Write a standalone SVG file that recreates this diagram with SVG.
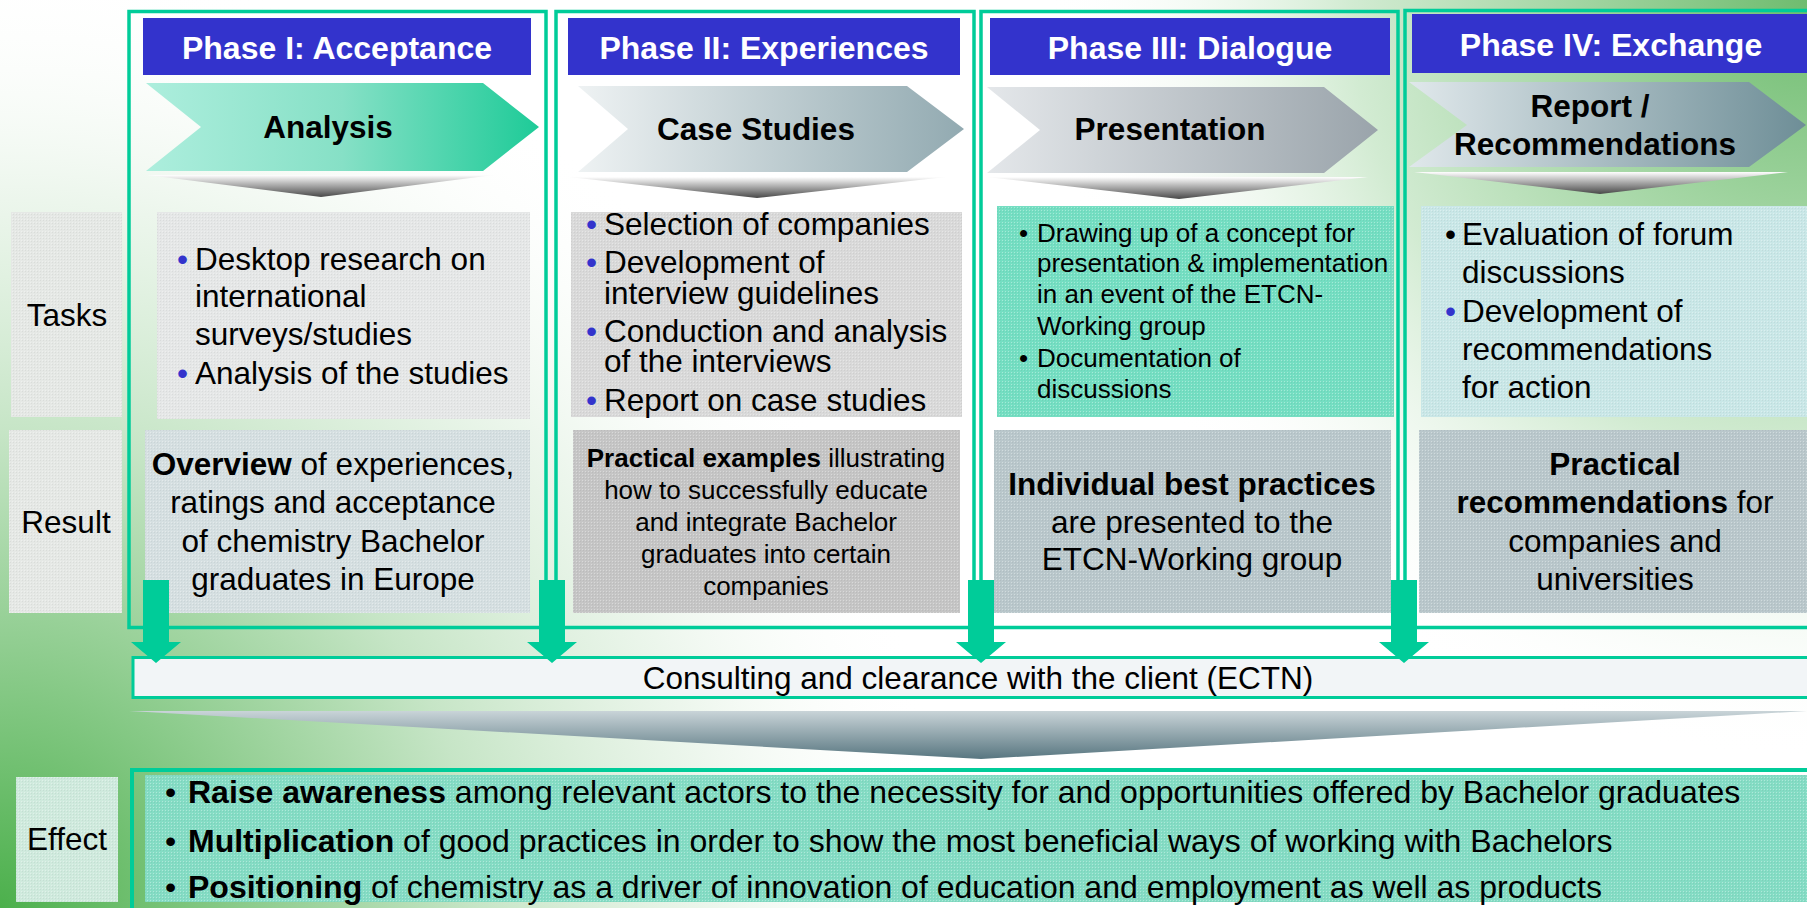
<svg xmlns="http://www.w3.org/2000/svg" width="1807" height="908" viewBox="0 0 1807 908">
<defs>
<radialGradient id="bgBL" cx="0" cy="908" r="950" gradientUnits="userSpaceOnUse">
<stop offset="0" stop-color="#4cb04c"/><stop offset="0.3" stop-color="#96d096"/><stop offset="0.5" stop-color="#c6e5c6"/><stop offset="0.75" stop-color="#e8f4e8" stop-opacity="0.8"/><stop offset="1" stop-color="#ffffff" stop-opacity="0"/>
</radialGradient>
<radialGradient id="bgTR" cx="1807" cy="0" r="760" gradientUnits="userSpaceOnUse">
<stop offset="0" stop-color="#6fbc6f"/><stop offset="0.3" stop-color="#a2d5a2"/><stop offset="0.6" stop-color="#d2ebd2"/><stop offset="1" stop-color="#ffffff" stop-opacity="0"/>
</radialGradient>
<linearGradient id="chev1" x1="0" y1="0" x2="1" y2="0"><stop offset="0" stop-color="#adeedd"/><stop offset="0.5" stop-color="#86e0c6"/><stop offset="1" stop-color="#1ecb98"/></linearGradient>
<linearGradient id="chev2" x1="0" y1="0" x2="1" y2="0"><stop offset="0" stop-color="#eef2f3"/><stop offset="1" stop-color="#92aab1"/></linearGradient>
<linearGradient id="chev3" x1="0" y1="0" x2="1" y2="0"><stop offset="0" stop-color="#e4e7ea"/><stop offset="1" stop-color="#9aa4ab"/></linearGradient>
<linearGradient id="chev4" x1="0" y1="0" x2="1" y2="0"><stop offset="0" stop-color="#e0e8eb"/><stop offset="1" stop-color="#6e8e97"/></linearGradient>
<linearGradient id="fun" x1="0" y1="0" x2="0" y2="1"><stop offset="0" stop-color="#ffffff"/><stop offset="1" stop-color="#484848"/></linearGradient>
<linearGradient id="bigfun" x1="0" y1="0" x2="0" y2="1"><stop offset="0" stop-color="#c9d4d8"/><stop offset="1" stop-color="#587680"/></linearGradient>
<pattern id="tex" width="3" height="3" patternUnits="userSpaceOnUse"><rect width="1" height="1" fill="#ffffff" fill-opacity="0.35"/><rect x="1" y="1" width="1" height="1" fill="#000000" fill-opacity="0.05"/></pattern>
<style>
.t{font-family:"Liberation Sans",Arial,sans-serif;font-size:31.5px;fill:#000}
.b{font-weight:bold}
.s{font-size:26px}
.e{font-size:32px}
.h{fill:#ffffff;font-weight:bold;font-size:32px}
.c{text-anchor:middle}
.blu{fill:#3333cc}
.frame{fill:none;stroke:#00cc99;stroke-width:3.5}
.hdr{fill:#3333cc}
.arrow{fill:#00cc99}
.tx{fill:url(#tex)}
</style>
</defs>

<g id="background">
<rect width="1807" height="908" fill="#ffffff"/>
<rect width="1807" height="908" fill="url(#bgBL)"/>
<rect width="1807" height="908" fill="url(#bgTR)"/>
</g>

<g id="row-labels">
<g id="label-tasks">
<rect x="11" y="212" width="111" height="205" fill="#e5e8e5"/><rect x="11" y="212" width="111" height="205" class="tx"/>
<text x="67" y="326" class="t c">Tasks</text>
</g>
<g id="label-result">
<rect x="9" y="430" width="113" height="183" fill="#e5e8e5"/><rect x="9" y="430" width="113" height="183" class="tx"/>
<text x="66" y="533" class="t c">Result</text>
</g>
<g id="label-effect">
<rect x="16" y="777" width="102" height="125" fill="#cfeadd"/><rect x="16" y="777" width="102" height="125" class="tx"/>
<text x="67" y="850" class="t c">Effect</text>
</g>
</g>

<g id="phase1">
<rect x="129" y="11.5" width="417" height="616" class="frame"/>
<rect x="143" y="18" width="388" height="57" class="hdr"/>
<text x="337" y="59" class="t h c">Phase I: Acceptance</text>
<polygon points="146,83 483,83 539,127 483,171 146,171 201,127" fill="url(#chev1)"/>
<text x="328" y="138" class="t b c">Analysis</text>
<polygon points="147,175 494,175 321,197" fill="url(#fun)"/>
<rect x="157" y="212" width="373" height="207" fill="#e5e7e7"/><rect x="157" y="212" width="373" height="207" class="tx"/>
<text class="t"><tspan x="177" y="270" class="blu">•</tspan><tspan x="195" y="270">Desktop research on</tspan><tspan x="195" y="307">international</tspan><tspan x="195" y="345">surveys/studies</tspan><tspan x="177" y="384" class="blu">•</tspan><tspan x="195" y="384">Analysis of the studies</tspan></text>
<rect x="145" y="430" width="385" height="183" fill="#d5dfe1"/><rect x="145" y="430" width="385" height="183" class="tx"/>
<text class="t c"><tspan x="333" y="475"><tspan class="b">Overview</tspan> of experiences,</tspan><tspan x="333" y="513">ratings and acceptance</tspan><tspan x="333" y="552">of chemistry Bachelor</tspan><tspan x="333" y="590">graduates in Europe</tspan></text>
</g>

<g id="phase2">
<rect x="556" y="11.5" width="418" height="616" class="frame"/>
<rect x="568" y="18" width="392" height="57" class="hdr"/>
<text x="764" y="59" class="t h c">Phase II: Experiences</text>
<polygon points="578,86 907,86 964,129 907,172 578,172 628,129" fill="url(#chev2)"/>
<text x="756" y="140" class="t b c">Case Studies</text>
<polygon points="569,177 946,177 757,198" fill="url(#fun)"/>
<rect x="571" y="212" width="391" height="205" fill="#d9d9d9"/><rect x="571" y="212" width="391" height="205" class="tx"/>
<text class="t"><tspan x="586" y="235" class="blu">•</tspan><tspan x="604" y="235">Selection of companies</tspan><tspan x="586" y="273" class="blu">•</tspan><tspan x="604" y="273">Development of</tspan><tspan x="604" y="304">interview guidelines</tspan><tspan x="586" y="342" class="blu">•</tspan><tspan x="604" y="342">Conduction and analysis</tspan><tspan x="604" y="372">of the interviews</tspan><tspan x="586" y="411" class="blu">•</tspan><tspan x="604" y="411">Report on case studies</tspan></text>
<rect x="573" y="430" width="387" height="183" fill="#c5c5c5"/><rect x="573" y="430" width="387" height="183" class="tx"/>
<text class="t s c"><tspan x="766" y="467"><tspan class="b">Practical examples</tspan> illustrating</tspan><tspan x="766" y="499">how to successfully educate</tspan><tspan x="766" y="531">and integrate Bachelor</tspan><tspan x="766" y="563">graduates into certain</tspan><tspan x="766" y="595">companies</tspan></text>
</g>

<g id="phase3">
<rect x="981" y="11.5" width="417" height="616" class="frame"/>
<rect x="990" y="18" width="400" height="57" class="hdr"/>
<text x="1190" y="59" class="t h c">Phase III: Dialogue</text>
<polygon points="987,87 1324,87 1378,130 1324,173 987,173 1040,130" fill="url(#chev3)"/>
<text x="1170" y="140" class="t b c">Presentation</text>
<polygon points="987,177 1368,177 1179,199" fill="url(#fun)"/>
<rect x="997" y="206" width="397" height="211" fill="#74dec2"/><rect x="997" y="206" width="397" height="211" class="tx"/>
<text class="t s"><tspan x="1019" y="242">•</tspan><tspan x="1037" y="242">Drawing up of a concept for</tspan><tspan x="1037" y="272">presentation &amp; implementation</tspan><tspan x="1037" y="303">in an event of the ETCN-</tspan><tspan x="1037" y="335">Working group</tspan><tspan x="1019" y="367">•</tspan><tspan x="1037" y="367">Documentation of</tspan><tspan x="1037" y="398">discussions</tspan></text>
<rect x="994" y="430" width="397" height="183" fill="#b9c7cb"/><rect x="994" y="430" width="397" height="183" class="tx"/>
<text class="t c"><tspan x="1192" y="495" class="b">Individual best practices</tspan><tspan x="1192" y="533">are presented to the</tspan><tspan x="1192" y="570">ETCN-Working group</tspan></text>
</g>

<g id="phase4">
<rect x="1405" y="10.5" width="420" height="617" class="frame"/>
<rect x="1412" y="14" width="395" height="59" class="hdr"/>
<text x="1611" y="56" class="t h c">Phase IV: Exchange</text>
<polygon points="1409,82 1749,82 1806,125 1749,167 1409,167 1467,125" fill="url(#chev4)"/>
<text class="t b c"><tspan x="1590" y="117">Report /</tspan><tspan x="1595" y="155">Recommendations</tspan></text>
<polygon points="1414,172 1788,172 1600,194" fill="url(#fun)"/>
<rect x="1421" y="206" width="386" height="211" fill="#c9e7e7"/><rect x="1421" y="206" width="386" height="211" class="tx"/>
<text class="t"><tspan x="1445" y="245">•</tspan><tspan x="1462" y="245">Evaluation of forum</tspan><tspan x="1462" y="283">discussions</tspan><tspan x="1445" y="322" class="blu">•</tspan><tspan x="1462" y="322">Development of</tspan><tspan x="1462" y="360">recommendations</tspan><tspan x="1462" y="398">for action</tspan></text>
<rect x="1419" y="430" width="388" height="183" fill="#b9c7cb"/><rect x="1419" y="430" width="388" height="183" class="tx"/>
<text class="t c"><tspan x="1615" y="475" class="b">Practical</tspan><tspan x="1615" y="513"><tspan class="b">recommendations</tspan> for</tspan><tspan x="1615" y="552">companies and</tspan><tspan x="1615" y="590">universities</tspan></text>
</g>

<g id="consulting">
<rect x="133" y="657.5" width="1690" height="40" fill="#f2f5f7" stroke="#00cc99" stroke-width="3"/>
<text x="978" y="689" class="t c">Consulting and clearance with the client (ECTN)</text>
</g>

<g id="connectors">
<polygon class="arrow" points="143,580 169,580 169,642 181,642 156,663 131,642 143,642"/>
<polygon class="arrow" points="539,580 565,580 565,642 577,642 552,663 527,642 539,642"/>
<polygon class="arrow" points="968,580 994,580 994,642 1006,642 981,663 956,642 968,642"/>
<polygon class="arrow" points="1391,580 1417,580 1417,642 1429,642 1404,663 1379,642 1391,642"/>
<polygon points="129,711 1807,711 981,759" fill="url(#bigfun)"/>
</g>

<g id="effect">
<rect x="132" y="770" width="1700" height="150" fill="none" stroke="#00cc99" stroke-width="4"/>
<rect x="145" y="775" width="1662" height="127" fill="#84dcc4"/><rect x="145" y="775" width="1662" height="127" class="tx"/>
<text class="t e"><tspan x="165" y="803">•</tspan><tspan x="188" y="803"><tspan class="b">Raise awareness</tspan> among relevant actors to the necessity for and opportunities offered by Bachelor graduates</tspan><tspan x="165" y="852">•</tspan><tspan x="188" y="852"><tspan class="b">Multiplication</tspan> of good practices in order to show the most beneficial ways of working with Bachelors</tspan><tspan x="165" y="898">•</tspan><tspan x="188" y="898"><tspan class="b">Positioning</tspan> of chemistry as a driver of innovation of education and employment as well as products</tspan></text>
</g>
</svg>
